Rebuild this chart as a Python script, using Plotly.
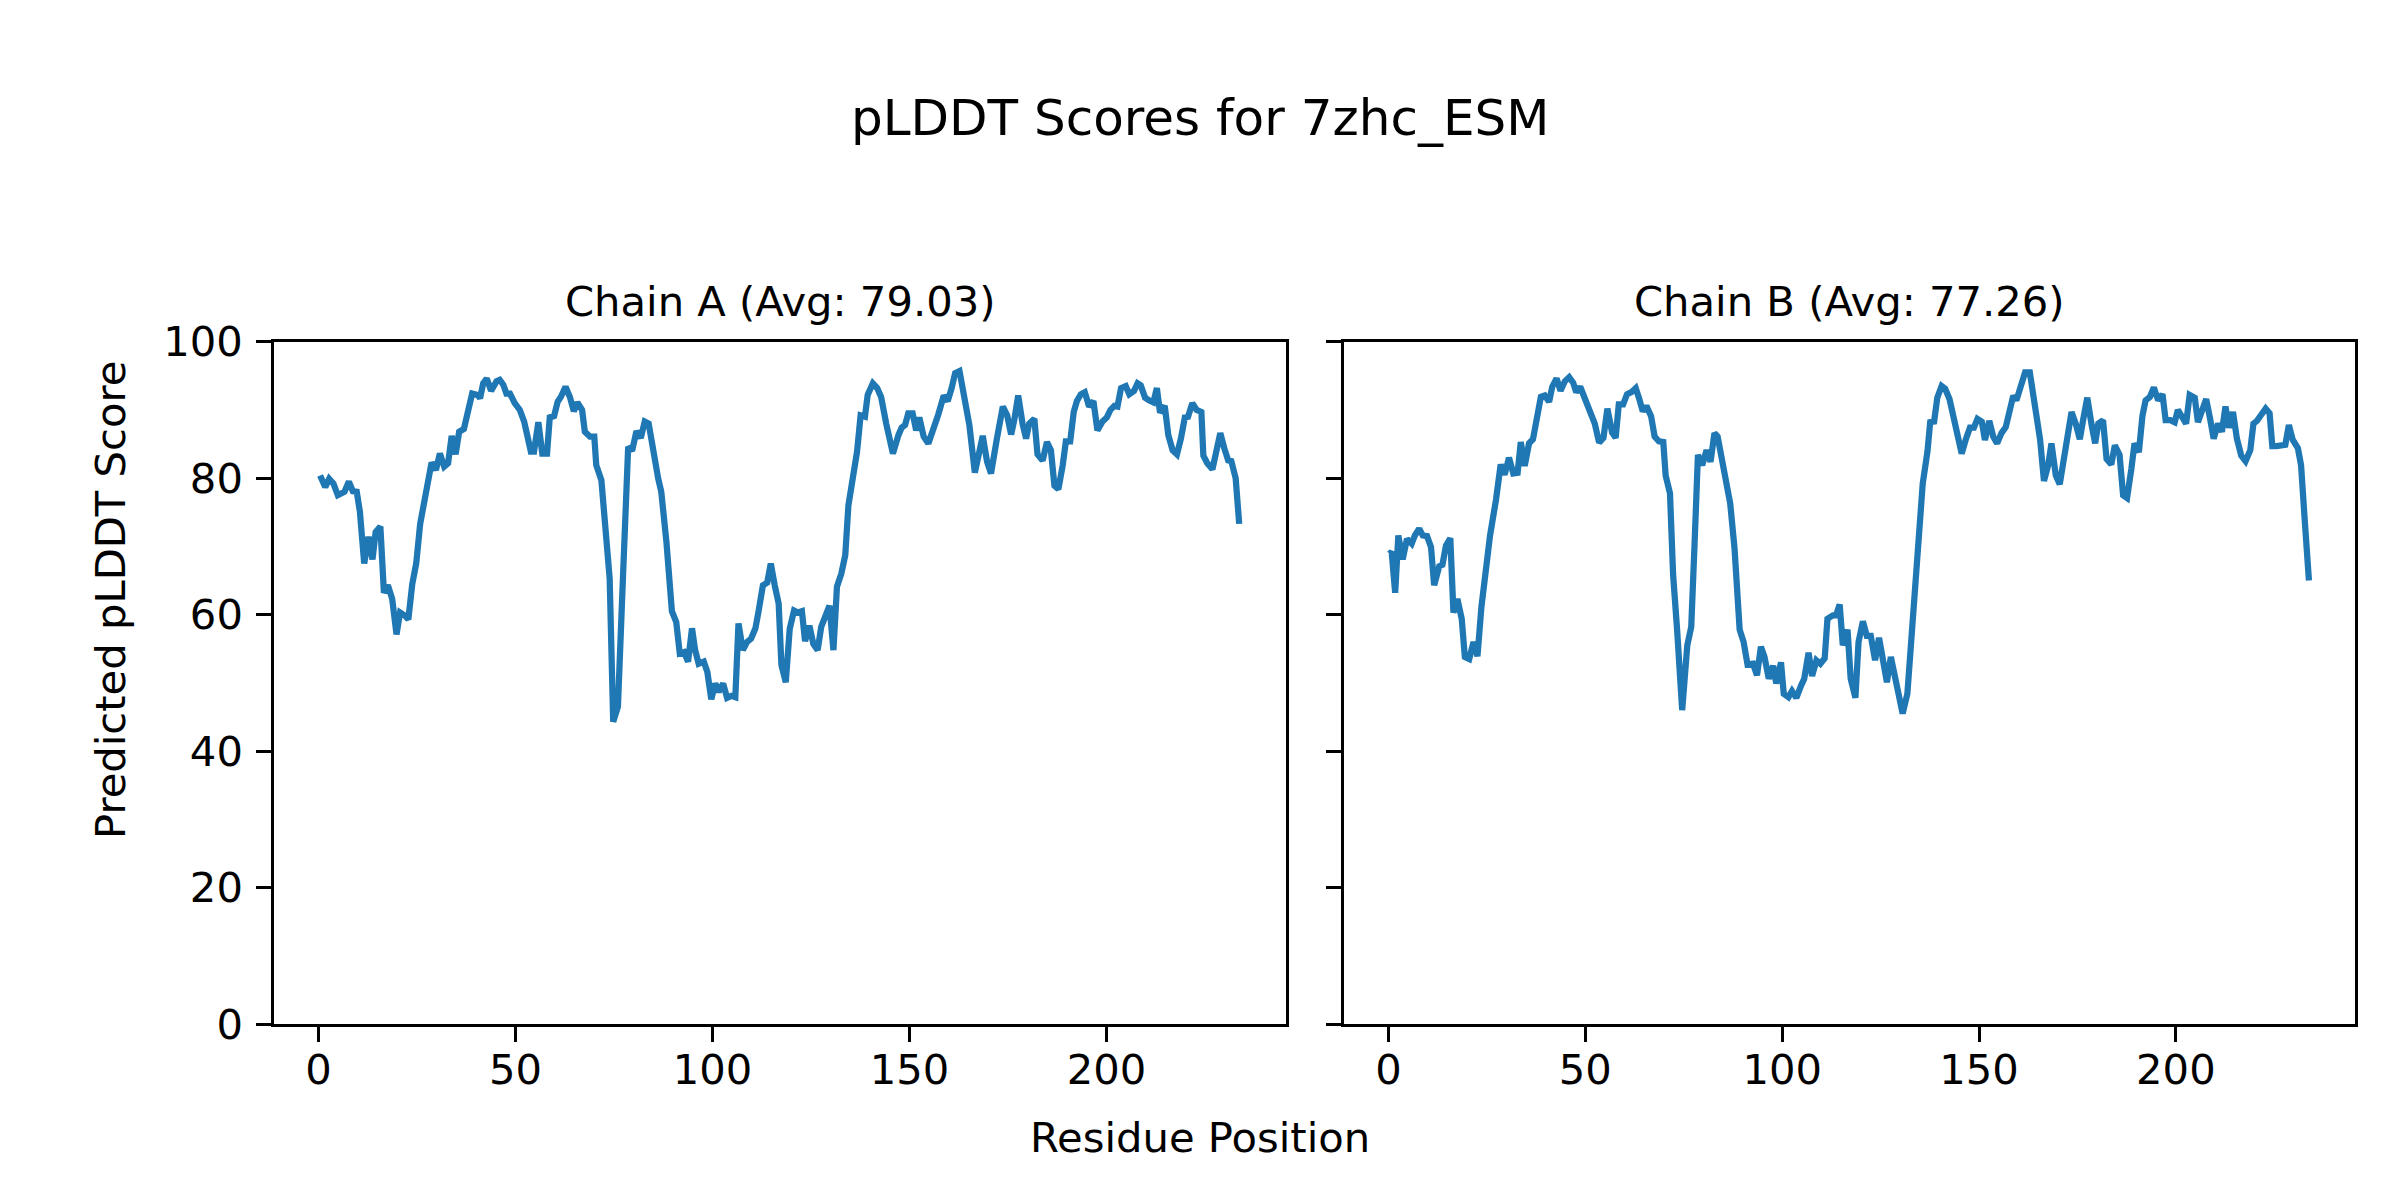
import plotly.graph_objects as go

# ---------------- data ----------------
chain_a_x = [0.4, 1.7, 2.7, 3.8, 4.9, 6.6, 7.7, 8.7, 9.7, 10.5, 11.6, 12.7, 13.7, 14.5, 15.7,
             16.6, 17.6, 18.7, 19.8, 20.7, 22.0, 22.8, 23.8, 24.8, 25.8, 27.2, 28.7, 29.8, 30.8,
             31.9, 32.9, 33.8, 34.8, 35.7, 36.9, 39.0, 40.4, 41.0, 41.8, 42.7, 43.8, 45.2, 46.0,
             46.9, 47.7, 48.6, 49.8, 51.1, 52.2, 53.9, 54.7, 55.8, 56.8, 58.0, 58.7, 59.8, 60.7,
             61.5, 62.7, 63.8, 64.8, 65.7, 66.9, 67.6, 68.9, 70.0, 70.5, 71.8, 72.8, 73.9, 74.8,
             76.0, 77.3, 78.6, 79.6, 80.7, 81.8, 82.8, 83.8, 84.9, 86.2, 87.0, 88.3, 89.7, 90.8,
             91.7, 92.8, 93.8, 94.8, 95.6, 96.5, 97.8, 98.7, 99.7, 100.7, 101.6, 102.7, 103.7,
             104.8, 105.8, 106.6, 107.7, 108.8, 109.8, 110.9, 111.7, 112.8, 113.9, 114.8, 115.8,
             116.8, 117.5, 118.6, 119.6, 120.7, 121.7, 122.7, 123.5, 124.6, 125.6, 126.7, 127.6,
             128.9, 129.7, 130.7, 131.6, 132.7, 133.7, 134.5, 135.6, 136.7, 137.6, 138.7, 139.4,
             140.7, 141.8, 142.8, 144.1, 145.8, 147.2, 148.0, 148.9, 149.7, 150.8, 151.7, 152.5,
             153.6, 154.8, 156.5, 157.3, 158.7, 159.7, 160.7, 161.6, 162.7, 163.9, 165.2, 166.6,
             167.6, 168.6, 169.7, 170.7, 172.2, 173.7, 174.8, 175.8, 176.6, 177.6, 178.7, 179.6,
             180.4, 181.7, 182.5, 183.8, 184.9, 185.9, 186.8, 187.8, 188.9, 189.7, 190.8, 191.7,
             192.5, 193.5, 194.5, 195.6, 196.7, 197.7, 199.0, 200.1, 201.0, 202.0, 202.8, 203.7,
             204.9, 205.8, 207.0, 207.9, 208.7, 209.8, 210.8, 211.9, 212.8, 213.6, 214.8, 215.7,
             216.8, 217.9, 218.9, 219.9, 220.7, 221.8, 222.9, 224.1, 224.6, 225.6, 226.9, 228.0,
             228.9, 229.9, 230.9, 231.7, 232.8, 233.7]
chain_a_y = [80.4, 78.7, 79.9, 79.2, 77.5, 78.0, 79.5, 78.1, 78.0, 75.1, 67.5, 71.4, 68.1, 72.1, 72.9,
             63.2, 64.3, 62.3, 57.1, 60.3, 59.8, 59.3, 64.5, 67.5, 73.3, 77.3, 82.3, 81.2, 83.6,
             81.7, 82.2, 86.2, 83.5, 86.8, 87.2, 92.4, 92.2, 91.7, 93.9, 94.6, 92.8, 94.2, 94.4,
             93.7, 92.4, 92.4, 91.0, 90.0, 88.3, 83.9, 83.9, 88.2, 83.6, 83.6, 88.9, 89.1, 91.2,
             91.9, 93.4, 91.9, 89.8, 91.1, 90.0, 86.8, 86.1, 86.1, 81.9, 79.7, 71.6, 65.3, 44.3,
             46.5, 65.8, 84.6, 84.0, 86.9, 85.9, 88.3, 88.0, 83.9, 80.0, 78.0, 70.7, 60.5, 58.9,
             54.3, 54.5, 53.1, 58.0, 54.8, 52.8, 53.1, 51.6, 47.6, 49.9, 48.7, 49.9, 47.8,
             48.1, 47.9, 58.7, 54.8, 56.0, 56.5, 58.0, 60.5, 64.3, 64.7, 67.5, 64.3,
             61.6, 52.6, 50.1, 57.9, 60.6, 60.3, 60.5, 56.1, 58.4, 55.7, 54.8, 58.2,
             60.1, 61.3, 54.8, 64.1, 66.0, 68.7, 76.0, 80.4, 83.9, 89.2, 89.0, 92.2,
             93.9, 93.2, 91.9, 88.0, 83.6, 86.3, 87.4, 87.8, 89.5, 89.5, 87.0, 88.9,
             86.1, 85.1, 87.8, 89.3, 92.1, 91.3, 93.2, 95.4, 95.7, 91.4, 87.8, 80.8,
             83.4, 86.2, 82.4, 80.7, 85.8, 90.5, 89.2, 86.4, 88.5, 92.1, 88.0, 85.8,
             88.0, 88.7, 83.5, 82.6, 85.3, 84.1, 78.9, 78.4, 81.9, 85.4, 85.4, 89.7,
             91.3, 92.3, 92.6, 90.5, 91.3, 87.0, 88.3, 88.9, 90.0, 90.6, 90.5, 93.2,
             93.5, 92.3, 92.8, 93.9, 93.6, 91.8, 91.4, 91.1, 93.2, 89.6, 90.6, 86.3,
             84.1, 83.5, 85.8, 88.9, 89.0, 91.0, 90.0, 89.7, 83.3, 82.2, 81.3, 84.6,
             86.6, 84.4, 82.6, 82.5, 80.0, 73.3]

chain_b_x = [0.2, 0.8, 1.7, 2.5, 3.6, 4.7, 5.9, 6.7, 7.8, 8.7, 9.8, 10.8, 11.6, 12.9, 13.7, 14.6,
             15.7, 16.5, 17.5, 18.6, 19.4, 20.5, 21.6, 22.6, 23.6, 24.7, 25.8, 27.3, 28.5, 29.5,
             30.6, 31.7, 32.8, 33.6, 34.6, 35.7, 36.7, 38.7, 39.7, 40.8, 41.6, 42.7, 43.7, 44.8,
             45.9, 46.9, 47.7, 48.7, 50.5, 52.4, 53.5, 54.6, 55.6, 56.8, 57.7, 58.5, 59.6, 60.6,
             61.7, 62.8, 63.6, 64.6, 65.5, 66.7, 67.6, 68.7, 69.8, 70.4, 71.5, 72.3, 73.3, 74.6,
             75.9, 76.9, 77.7, 78.6, 79.7, 80.8, 81.8, 82.8, 83.6, 84.7, 85.8, 86.8, 87.9, 89.2,
             90.2, 91.2, 92.6, 93.6, 94.6, 95.5, 96.6, 97.7, 98.5, 99.7, 100.4, 101.6, 102.5,
             103.6, 104.8, 105.6, 106.7, 107.6, 108.7, 109.7, 110.8, 111.5, 112.9, 113.7, 114.6,
             115.4, 116.6, 117.4, 118.6, 119.4, 120.5, 121.5, 122.5, 123.6, 124.6, 125.7, 126.6,
             127.6, 128.7, 129.5, 130.6, 131.8, 132.7, 134.2, 135.7, 136.9, 137.6, 138.6, 139.4,
             140.5, 141.4, 142.5, 144.2, 145.6, 146.7, 147.7, 148.7, 149.6, 150.7, 151.5, 152.6,
             153.6, 154.6, 155.7, 156.8, 157.7, 158.7, 159.5, 160.6, 161.7, 162.9, 164.2, 165.5,
             166.5, 167.6, 168.4, 169.5, 170.5, 172.1, 173.5, 174.6, 175.6, 176.4, 177.5, 178.6,
             179.5, 180.3, 181.5, 182.4, 183.6, 184.5, 185.7, 186.6, 187.6, 188.7, 189.5, 190.6,
             191.5, 192.3, 193.4, 194.4, 195.5, 196.6, 197.4, 198.6, 199.7, 200.5, 201.6, 202.6,
             203.5, 204.8, 205.6, 206.7, 207.7, 208.7, 209.6, 210.7, 211.7, 212.6, 213.5, 214.5,
             215.5, 216.6, 217.7, 218.9, 219.7, 220.6, 221.7, 222.8, 223.8, 224.5, 225.6, 227.0,
             227.8, 228.7, 229.7, 231.0, 231.8, 232.7, 233.8]
chain_b_y = [68.9, 69.2, 63.2, 71.6, 68.1, 71.1, 70.4, 71.6, 72.6, 71.6, 71.5, 69.9, 64.3, 67.1, 67.3, 70.1,
             71.2, 60.3, 62.3, 59.4, 53.8, 53.5, 56.0, 53.9, 61.1, 66.7, 71.6, 76.8, 82.0, 80.5,
             83.0, 80.7, 80.8, 85.3, 81.8, 85.1, 85.7, 91.9, 92.1, 91.2, 93.4, 94.6, 92.8, 94.2,
             94.8, 94.0, 92.6, 93.4, 90.7, 88.0, 85.2, 85.9, 90.2, 86.7, 85.9, 90.8, 90.8, 92.3,
             92.6, 93.2, 91.8, 89.8, 90.6, 89.1, 86.1, 85.4, 85.3, 80.4, 77.8, 65.8, 57.9, 46.0,
             55.5, 58.2, 69.7, 83.4, 81.9, 84.1, 82.4, 86.6, 86.1, 82.9, 80.0, 76.3, 69.7, 57.8,
             56.0, 52.7, 52.8, 51.1, 55.3, 53.8, 50.6, 52.5, 49.9, 53.0, 48.4, 47.9, 48.8,
             47.8, 49.6, 50.6, 54.4, 51.0, 53.3, 52.8, 53.6, 59.4, 59.9, 59.9, 61.5,
             55.5, 57.8, 50.6, 47.8, 56.0, 59.0, 56.9, 56.9, 53.3, 56.6, 53.0, 50.1,
             53.8, 50.6, 49.1, 45.5, 48.4, 55.0, 67.1, 79.2, 83.9, 88.2, 88.3, 91.8,
             93.5, 93.1, 91.6, 87.3, 83.6, 85.8, 87.4, 87.4, 88.7, 88.3, 85.6, 88.4,
             86.1, 85.1, 86.6, 87.5, 89.3, 92.1, 91.4, 93.4, 95.5, 95.5, 91.0, 85.7,
             79.6, 82.0, 85.1, 80.4, 79.1, 84.4, 89.7, 87.9, 85.7, 88.4, 91.8, 87.8,
             85.1, 88.0, 88.5, 82.8, 82.0, 84.8, 83.4, 77.5, 77.1, 81.4, 85.1, 83.8,
             89.1, 91.4, 91.9, 93.3, 91.4, 92.3, 88.5, 88.5, 88.2, 90.0, 88.7, 88.0,
             92.2, 91.8, 88.2, 89.7, 91.6, 88.7, 85.8, 88.0, 86.8, 90.5, 87.4, 89.7,
             85.8, 83.3, 82.5, 84.1, 88.0, 88.4, 89.3, 90.2, 89.5, 84.7, 84.7, 84.7,
             84.9, 87.8, 85.6, 84.4, 81.9, 74.1, 65.0]

chain_names = ["Chain A", "Chain B"]
chain_avgs = [79.03, 77.26]
y_ticks = [0, 20, 40, 60, 80, 100]
x_ticks = [0, 50, 100, 150, 200]
suptitle = "pLDDT Scores for 7zhc_ESM"
x_label = "Residue Position"
y_label = "Predicted pLDDT Score"

# ---------------- figure ----------------
W, H = 2400, 1200
OFF = 8  # the page body margin shifts the plot by this many px
FONT = "DejaVu Sans"
LINE_COLOR = "#1f77b4"


def px_x(p):
    return (p - OFF) / W


def px_y(q):
    return 1 - (q - OFF) / H


fig = go.Figure()
fig.add_trace(go.Scatter(x=chain_a_x, y=chain_a_y, mode="lines",
                         line=dict(color=LINE_COLOR, width=6.25), xaxis="x", yaxis="y",
                         showlegend=False, hoverinfo="skip"))
fig.add_trace(go.Scatter(x=chain_b_x, y=chain_b_y, mode="lines",
                         line=dict(color=LINE_COLOR, width=6.25), xaxis="x2", yaxis="y2",
                         showlegend=False, hoverinfo="skip"))

ydom = [px_y(1024.0), px_y(341.7)]
xdomA = [px_x(274.0), px_x(1285.7)]
xdomB = [px_x(1344.0), px_x(2355.0)]

axis_common = dict(showline=True, linecolor="black", linewidth=3.3, mirror=True,
                   ticks="outside", ticklen=14.6, tickwidth=3.3, tickcolor="black",
                   showgrid=False, zeroline=False, automargin=False,
                   tickfont=dict(family=FONT, size=41.7, color="black"))
x_axis = dict(axis_common, ticklabelstandoff=-8)
y_axis = dict(axis_common, ticklabelstandoff=5)

xr = [-11.3, 245.5]
fig.update_layout(
    template="none",
    width=W, height=H,
    margin=dict(l=0, r=0, t=0, b=0, pad=0),
    paper_bgcolor="white", plot_bgcolor="white",
    font=dict(family=FONT, color="black"),
    showlegend=False,
    xaxis=dict(domain=xdomA, range=xr, tickvals=x_ticks, anchor="y", **x_axis),
    yaxis=dict(domain=ydom, range=[0, 100], tickvals=y_ticks, anchor="x", **y_axis),
    xaxis2=dict(domain=xdomB, range=xr, tickvals=x_ticks, anchor="y2", **x_axis),
    yaxis2=dict(domain=ydom, range=[0, 100], tickvals=y_ticks, anchor="x2",
                showticklabels=False, **y_axis),
)

annotations = []
for name, avg, dom in zip(chain_names, chain_avgs, [xdomA, xdomB]):
    annotations.append(dict(text=f"{name} (Avg: {avg:.2f})", xref="paper", yref="paper",
                            x=(dom[0] + dom[1]) / 2, y=px_y(301),
                            xanchor="center", yanchor="middle", showarrow=False,
                            font=dict(family=FONT, size=41.7, color="black")))
annotations.append(dict(text=suptitle, xref="paper", yref="paper", x=px_x(1200), y=px_y(118),
                        xanchor="center", yanchor="middle", showarrow=False,
                        font=dict(family=FONT, size=50, color="black")))
annotations.append(dict(text=x_label, xref="paper", yref="paper", x=px_x(1200), y=px_y(1137),
                        xanchor="center", yanchor="middle", showarrow=False,
                        font=dict(family=FONT, size=41.7, color="black")))
annotations.append(dict(text=y_label, xref="paper", yref="paper", x=px_x(110), y=px_y(600),
                        xanchor="center", yanchor="middle", showarrow=False, textangle=-90,
                        font=dict(family=FONT, size=41.7, color="black")))
fig.update_layout(annotations=annotations)

fig.write_html("out.html")
